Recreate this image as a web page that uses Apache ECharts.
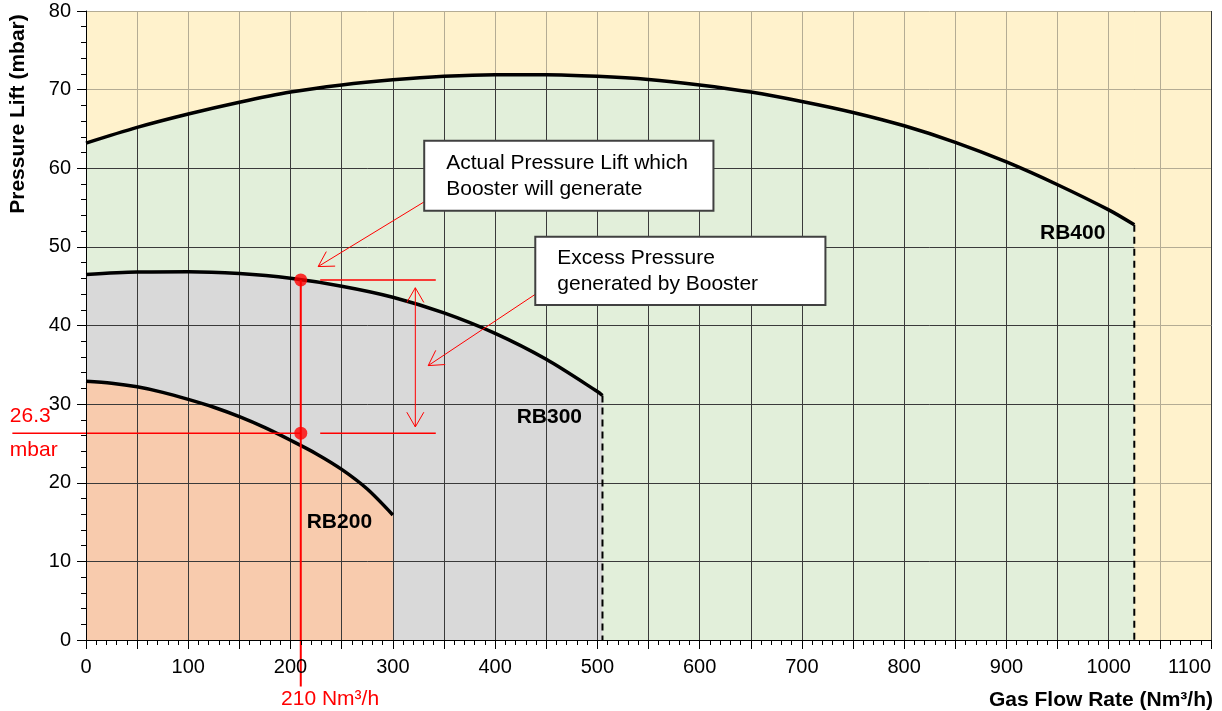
<!DOCTYPE html>
<html>
<head>
<meta charset="utf-8">
<script src="https://cdn.jsdelivr.net/npm/echarts@6/dist/echarts.min.js"></script>
<style>
html,body{margin:0;padding:0;background:#fff;}
#chart{width:1222px;height:711px;}
</style>
</head>
<body>
<div id="chart"></div>
<script>
// ---- data ----
const flowRB400 = [0,50,100,150,200,250,300,350,400,450,500,550,600,650,700,750,800,850,900,950,1000,1025];
const liftRB400 = [63.2,65.2,66.9,68.4,69.7,70.6,71.25,71.7,71.9,71.9,71.7,71.3,70.6,69.7,68.5,67.1,65.4,63.3,60.8,57.9,54.7,52.8];
const flowRB300 = [0,50,100,150,200,250,300,350,400,450,500,505];
const liftRB300 = [46.5,46.8,46.85,46.6,46.0,45.0,43.6,41.6,39.0,35.7,31.6,31.1];
const flowRB200 = [0,25,50,75,100,125,150,175,200,225,250,275,300];
const liftRB200 = [32.9,32.65,32.2,31.5,30.6,29.6,28.4,27.0,25.4,23.7,21.7,19.2,15.9];
const modelNames = ['RB200','RB300','RB400'];
const xTicks = [0,100,200,300,400,500,600,700,800,900,1000,1100];
const selectedFlow = 210;          // Nm3/h
const requiredLift = 26.3;         // mbar
const actualLift = 45.8;           // mbar on RB300 curve
const xMin = 0, xMax = 1100, xStep = 50;
const yMin = 0, yMax = 80, yStep = 10;

const zip = (xs, ys) => xs.map((x, i) => [x, ys[i]]);
const rb400 = zip(flowRB400, liftRB400);
const rb300 = zip(flowRB300, liftRB300);
const rb200 = zip(flowRB200, liftRB200);
const last = a => a[a.length - 1];

const FONT = '"Liberation Sans", Arial, sans-serif';
const RED = '#FF0000';
const SMOOTH = 0.3;

function renderAnnotations(params, api) {
  const c = p => api.coord(p);
  const kids = [];
  const seg = (a, b, w) => kids.push({type: 'line', shape: {x1: a[0], y1: a[1], x2: b[0], y2: b[1]}, style: {stroke: RED, lineWidth: w}});
  const head = (tip, from) => {
    const dx = from[0] - tip[0], dy = from[1] - tip[1];
    const L = Math.hypot(dx, dy), ux = dx / L, uy = dy / L;
    const len = 17, ang = Math.PI / 6;
    const w = s => [tip[0] + len * (ux * Math.cos(s) - uy * Math.sin(s)), tip[1] + len * (ux * Math.sin(s) + uy * Math.cos(s))];
    const a = w(ang), b = w(-ang);
    kids.push({type: 'polyline', shape: {points: [a, tip, b]}, style: {stroke: RED, lineWidth: 1, fill: null}});
  };
  const arrow = (from, tip) => { seg(from, tip, 1); head(tip, from); };

  // selection lines
  seg(c([selectedFlow, actualLift]), c([selectedFlow, -5.9]), 2);
  seg(c([-72, requiredLift]), c([selectedFlow, requiredLift]), 1.5);
  seg(c([229, requiredLift]), c([342, requiredLift]), 1.5);
  seg(c([229, actualLift]), c([342, actualLift]), 1.5);
  // double arrow
  const dT = c([322, actualLift - 1.0]), dB = c([322, requiredLift + 0.8]);
  seg(dT, dB, 1); head(dT, dB); head(dB, dT);
  // callout arrows
  arrow(c([336.6, 56.2]), c([227, 47.5]));
  arrow(c([442, 44.2]), c([334.6, 34.9]));
  // boxes
  const box = (p1, p2, text) => {
    const a = c(p1), b = c(p2);
    const x = Math.min(a[0], b[0]), y = Math.min(a[1], b[1]);
    const w = Math.abs(b[0] - a[0]), h = Math.abs(b[1] - a[1]);
    kids.push({type: 'rect', shape: {x, y, width: w, height: h}, style: {fill: '#fff', stroke: '#404040', lineWidth: 2}});
    kids.push({type: 'text', style: {x: x + 22, y: y + h / 2, text, fill: '#000', fontSize: 21, fontFamily: FONT, align: 'left', verticalAlign: 'middle', lineHeight: 26}});
  };
  box([330.7, 63.5], [613.5, 54.6], 'Actual Pressure Lift which\nBooster will generate');
  box([439.3, 51.3], [723, 42.6], 'Excess Pressure\ngenerated by Booster');
  // model labels
  const lab = (p, t) => { const q = c(p); kids.push({type: 'text', style: {x: q[0], y: q[1], text: t, fill: '#000', fontSize: 21, fontWeight: 'bold', fontFamily: FONT, align: 'right', verticalAlign: 'middle'}}); };
  lab([996.7, 51.8], modelNames[2]);
  lab([485, 28.4], modelNames[1]);
  lab([279.7, 15.0], modelNames[0]);
  // red value labels
  const rtxt = (p, t, align) => { const q = c(p); kids.push({type: 'text', style: {x: q[0], y: q[1], text: t, fill: RED, fontSize: 21, fontFamily: FONT, align: align, verticalAlign: 'middle'}}); };
  rtxt([-74.5, requiredLift + 2.2], String(requiredLift), 'left');
  rtxt([-74.5, requiredLift - 2.1], 'mbar', 'left');
  rtxt([190.7, -7.5], selectedFlow + ' Nm³/h', 'left');
  return {type: 'group', children: kids};
}

const chart = echarts.init(document.getElementById('chart'), null, {renderer: 'canvas'});
const gridAxisX = {type: 'value', min: xMin, max: xMax, interval: xStep, gridIndex: 0};
const gridAxisY = {type: 'value', min: yMin, max: yMax, interval: yStep, gridIndex: 0};

chart.setOption({
  animation: false,
  backgroundColor: '#fff',
  grid: {left: 86, right: 11, top: 11, bottom: 71, show: true, backgroundColor: '#FFF2CC', borderWidth: 0,
    containLabel: false, outerBoundsMode: 'none'},
  xAxis: [
    Object.assign({}, gridAxisX, {z: 2, axisLine: {show: false}, axisTick: {show: false}, axisLabel: {show: false},
      splitLine: {show: true, lineStyle: {color: '#3a3a3a', width: 1}}}),
    Object.assign({}, gridAxisX, {z: 8, position: 'bottom',
      axisLine: {show: true, onZero: false, lineStyle: {color: '#000', width: 1}},
      axisTick: {show: true, inside: false, length: 9, lineStyle: {color: '#000'}},
      minorTick: {show: true, splitNumber: 5, length: 5, lineStyle: {color: '#000'}},
      axisLabel: {color: '#000', fontSize: 20, fontFamily: FONT, margin: 17, alignMaxLabel: 'right',
        formatter: v => (xTicks.indexOf(v) >= 0 ? String(v) : '')},
      splitLine: {show: false}})
  ],
  yAxis: [
    Object.assign({}, gridAxisY, {z: 2, axisLine: {show: false}, axisTick: {show: false}, axisLabel: {show: false},
      splitLine: {show: true, lineStyle: {color: '#3a3a3a', width: 1}}}),
    Object.assign({}, gridAxisY, {z: 8, position: 'left',
      axisLine: {show: true, onZero: false, lineStyle: {color: '#000', width: 1}},
      axisTick: {show: true, inside: false, length: 9, lineStyle: {color: '#000'}},
      minorTick: {show: true, splitNumber: 5, length: 5, lineStyle: {color: '#000'}},
      axisLabel: {color: '#000', fontSize: 20, fontFamily: FONT, margin: 15},
      splitLine: {show: false}})
  ],
  graphic: [
    {type: 'text', x: 1213, y: 700, style: {text: 'Gas Flow Rate (Nm³/h)', fill: '#000', fontSize: 21, fontWeight: 'bold', fontFamily: FONT, align: 'right', verticalAlign: 'middle'}},
    {type: 'text', x: 18, y: 114, rotation: Math.PI / 2, style: {text: 'Pressure Lift (mbar)', fill: '#000', fontSize: 21, fontWeight: 'bold', fontFamily: FONT, align: 'center', verticalAlign: 'middle'}}
  ],
  series: [
    {type: 'line', name: 'RB400 area', data: rb400, z: 1, smooth: SMOOTH, symbol: 'none', lineStyle: {width: 0}, areaStyle: {color: '#E2EFDA', opacity: 1}, silent: true},
    {type: 'line', name: 'RB300 area', data: rb300, z: 1, smooth: SMOOTH, symbol: 'none', lineStyle: {width: 0}, areaStyle: {color: '#D9D9D9', opacity: 1}, silent: true},
    {type: 'line', name: 'RB200 area', data: rb200, z: 1, smooth: SMOOTH, symbol: 'none', lineStyle: {width: 0}, areaStyle: {color: '#F8CBAD', opacity: 1}, silent: true},
    {type: 'line', name: 'outside top', data: rb400, z: 3, smooth: SMOOTH, symbol: 'none',
      lineStyle: {width: 0, opacity: 0}, areaStyle: {color: '#FFF2CC', opacity: 0.62, origin: 'end'}, silent: true},
    {type: 'line', name: 'outside right', data: [[last(flowRB400), 0], [xMax, 0]], z: 3, symbol: 'none',
      lineStyle: {width: 0, opacity: 0}, areaStyle: {color: '#FFF2CC', opacity: 0.62, origin: 'end'}, silent: true},
    {type: 'line', name: 'RB400', data: rb400, z: 5, smooth: SMOOTH, symbol: 'none', lineStyle: {color: '#000', width: 3.5}},
    {type: 'line', name: 'RB300', data: rb300, z: 5, smooth: SMOOTH, symbol: 'none', lineStyle: {color: '#000', width: 3.5}},
    {type: 'line', name: 'RB200', data: rb200, z: 5, smooth: SMOOTH, symbol: 'none', lineStyle: {color: '#000', width: 3.5}},
    {type: 'line', name: 'RB400 limit', data: [last(rb400), [last(flowRB400), 0]], z: 5, symbol: 'none', lineStyle: {color: '#000', width: 2, type: [7, 5]}},
    {type: 'line', name: 'RB300 limit', data: [last(rb300), [last(flowRB300), 0]], z: 5, symbol: 'none', lineStyle: {color: '#000', width: 2, type: [7, 5]}},
    {type: 'custom', name: 'annotations', z: 6, clip: false, data: [[selectedFlow, requiredLift]], renderItem: renderAnnotations, silent: true},
    {type: 'scatter', name: 'points', z: 7, data: [[selectedFlow, actualLift], [selectedFlow, requiredLift]], symbolSize: 13, itemStyle: {color: RED}}
  ]
});
</script>
</body>
</html>
